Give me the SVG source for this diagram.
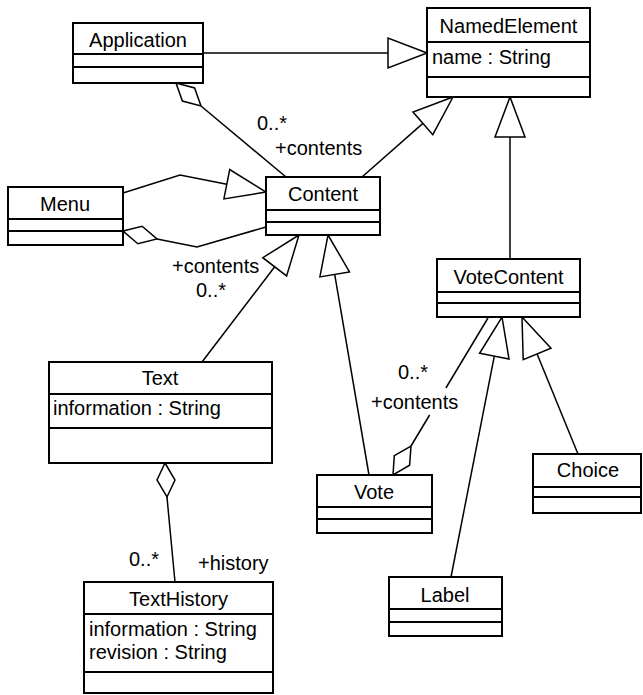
<svg xmlns="http://www.w3.org/2000/svg" width="643" height="695" viewBox="0 0 643 695">
<style>
.box{fill:#fff;stroke:#000;stroke-width:2}
.div{stroke:#000;stroke-width:2}
.ln{fill:none;stroke:#000;stroke-width:1.5}
.tri{fill:#fff;stroke:#000;stroke-width:1.5}
.dia{fill:#fff;stroke:#000;stroke-width:1.5}
text{font-family:"Liberation Sans",Arial,sans-serif;font-size:20px;fill:#000}
.nm{text-anchor:middle}
</style>
<rect width="643" height="695" fill="#fff"/>
<g id="connectors">
  <!-- Application -> NamedElement generalization -->
  <line class="ln" x1="203" y1="53" x2="388" y2="53"/>
  <polygon class="tri" points="427,53 388,38 388,68"/>
  <!-- Content -> NamedElement -->
  <line class="ln" x1="362" y1="177" x2="422.9" y2="123.4"/>
  <polygon class="tri" points="453,97 432.8,134.7 413,112.1"/>
  <!-- VoteContent -> NamedElement -->
  <line class="ln" x1="510" y1="259" x2="510" y2="137"/>
  <polygon class="tri" points="510,97 495,137 525,137"/>
  <!-- Menu -> Content -->
  <polyline class="ln" points="123,193 180,175 226.8,184.2"/>
  <polygon class="tri" points="266,192 223.9,198.9 229.7,169.5"/>
  <!-- Application aggregation Content -->
  <polygon class="dia" points="176,83 194.6,87.9 201,106 182.4,101.1"/>
  <line class="ln" x1="201" y1="106" x2="286" y2="177"/>
  <!-- Menu aggregation Content -->
  <polygon class="dia" points="123,231 142.1,226.2 157,239 137.9,243.8"/>
  <polyline class="ln" points="157,239 197,247 266,227"/>
  <!-- Text -> Content -->
  <line class="ln" x1="202" y1="362" x2="274.7" y2="266.8"/>
  <polygon class="tri" points="299,235 286.6,275.9 262.8,257.7"/>
  <!-- Vote -> Content -->
  <line class="ln" x1="369" y1="475" x2="334.7" y2="274.4"/>
  <polygon class="tri" points="328,235 349.5,271.9 319.9,276.9"/>
  <!-- Vote aggregation VoteContent -->
  <polygon class="dia" points="393,475 394.3,455.7 411,446 409.6,465.2"/>
  <line class="ln" x1="411" y1="446" x2="429.6" y2="415"/>
  <line class="ln" x1="445.9" y1="388" x2="488" y2="318"/>
  <!-- Label -> VoteContent -->
  <line class="ln" x1="451" y1="577" x2="494.3" y2="356.2"/>
  <polygon class="tri" points="502,317 509,359.1 479.6,353.3"/>
  <!-- Choice -> VoteContent -->
  <line class="ln" x1="578" y1="454" x2="537.1" y2="354"/>
  <polygon class="tri" points="522,317 551,348.3 523.2,359.7"/>
  <!-- Text aggregation TextHistory -->
  <polygon class="dia" points="165,463 175,480 167,497 157,480"/>
  <polyline class="ln" points="167,497 168,508 175,582"/>
  <!-- labels -->
  <text x="257" y="130">0..*</text>
  <text x="275" y="155">+contents</text>
  <text x="172" y="273">+contents</text>
  <text x="196" y="297">0..*</text>
  <text x="398" y="379">0..*</text>
  <text x="371" y="409">+contents</text>
  <text x="129" y="566">0..*</text>
  <text x="198" y="570">+history</text>
</g>
<g id="Application">
  <rect class="box" x="73" y="23" width="130" height="60"/>
  <line class="div" x1="73" y1="54" x2="203" y2="54"/>
  <line class="div" x1="73" y1="67" x2="203" y2="67"/>
  <text class="nm" x="138" y="47">Application</text>
</g>
<g id="NamedElement">
  <rect class="box" x="427" y="8" width="163" height="89"/>
  <line class="div" x1="427" y1="42" x2="590" y2="42"/>
  <line class="div" x1="427" y1="77" x2="590" y2="77"/>
  <text class="nm" x="508.5" y="33">NamedElement</text>
  <text x="432" y="64">name : String</text>
</g>
<g id="Menu">
  <rect class="box" x="8" y="187" width="115" height="58"/>
  <line class="div" x1="8" y1="219" x2="123" y2="219"/>
  <line class="div" x1="8" y1="231" x2="123" y2="231"/>
  <text class="nm" x="65" y="211">Menu</text>
</g>
<g id="Content">
  <rect class="box" x="266" y="177" width="114" height="58"/>
  <line class="div" x1="266" y1="210" x2="380" y2="210"/>
  <line class="div" x1="266" y1="222" x2="380" y2="222"/>
  <text class="nm" x="323" y="201">Content</text>
</g>
<g id="VoteContent">
  <rect class="box" x="437" y="259" width="143" height="58"/>
  <line class="div" x1="437" y1="292" x2="580" y2="292"/>
  <line class="div" x1="437" y1="303" x2="580" y2="303"/>
  <text class="nm" x="508.5" y="284">VoteContent</text>
</g>
<g id="Text">
  <rect class="box" x="49" y="362" width="223" height="101"/>
  <line class="div" x1="49" y1="394" x2="272" y2="394"/>
  <line class="div" x1="49" y1="428" x2="272" y2="428"/>
  <text class="nm" x="160" y="385">Text</text>
  <text x="53" y="415">information : String</text>
</g>
<g id="Vote">
  <rect class="box" x="317" y="475" width="115" height="58"/>
  <line class="div" x1="317" y1="507" x2="432" y2="507"/>
  <line class="div" x1="317" y1="519" x2="432" y2="519"/>
  <text class="nm" x="374" y="499">Vote</text>
</g>
<g id="Choice">
  <rect class="box" x="533" y="454" width="108" height="59"/>
  <line class="div" x1="533" y1="487" x2="641" y2="487"/>
  <line class="div" x1="533" y1="497" x2="641" y2="497"/>
  <text class="nm" x="588" y="477">Choice</text>
</g>
<g id="Label">
  <rect class="box" x="389" y="577" width="113" height="59"/>
  <line class="div" x1="389" y1="609" x2="502" y2="609"/>
  <line class="div" x1="389" y1="622" x2="502" y2="622"/>
  <text class="nm" x="445" y="602">Label</text>
</g>
<g id="TextHistory">
  <rect class="box" x="84" y="582" width="189" height="111"/>
  <line class="div" x1="84" y1="614" x2="273" y2="614"/>
  <line class="div" x1="84" y1="672" x2="273" y2="672"/>
  <text class="nm" x="178.5" y="606">TextHistory</text>
  <text x="89" y="636">information : String</text>
  <text x="89" y="659">revision : String</text>
</g>
</svg>
